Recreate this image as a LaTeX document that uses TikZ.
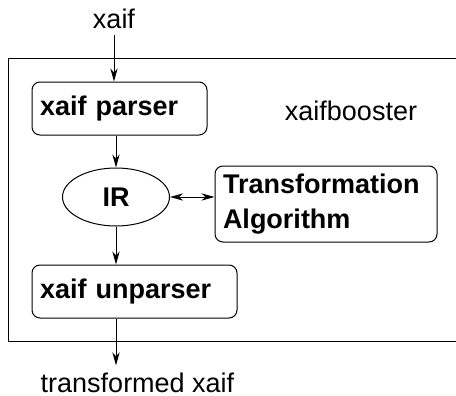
\documentclass[tikz,border=0pt]{standalone}
\usepackage{fontspec}
\setmainfont{Liberation Sans}
\usetikzlibrary{arrows.meta,shapes.geometric}

\tikzset{
  testo/.style={font=\fontsize{13.5}{17.5}\selectfont},
  blocco/.style={draw=black, line width=0.5pt, rounded corners=4pt, align=left,
    inner xsep=4pt, font=\fontsize{13.5}{17.5}\selectfont\bfseries},
  freccia/.style={line width=0.5pt, -{Stealth[length=6.5pt,width=3.6pt,inset=2pt]}},
  doppia/.style={line width=0.5pt, {Stealth[length=6.5pt,width=3.6pt,inset=2pt]}-{Stealth[length=6.5pt,width=3.6pt,inset=2pt]}},
}

\begin{document}
\begin{tikzpicture}[x=0.5pt, y=-0.5pt]

\useasboundingbox (0,0) rectangle (456,396);

% Riquadro esterno
\draw[line width=0.5pt] (8,58) rectangle (480,341);

% Testi fuori e dentro il riquadro
\node[testo, anchor=base] (xaifin) at (114,28) {xaif};
\node[testo, anchor=base] (booster) at (351,120) {xaifbooster};
\node[testo, anchor=base] (uscita) at (137.5,392) {transformed xaif};

% Blocchi
\node[blocco, text width=79.5pt, minimum height=26.5pt] (parser) at (119.5,108.5) {xaif parser};
\node[draw=black, line width=0.5pt, ellipse, inner sep=0pt, minimum width=53.5pt,
  minimum height=29pt, font=\fontsize{13.5}{17.5}\selectfont\bfseries] (ir) at (116,197) {IR};
\node[blocco, text width=103pt, minimum height=38pt] (trasf) at (326,204) {Transformation\\Algorithm};
\node[blocco, text width=94.5pt, minimum height=26.5pt] (unparser) at (134.5,291.5) {xaif unparser};

% Frecce
\draw[freccia] (xaifin) -- (xaifin |- parser.north);
\draw[freccia] (parser.south -| ir) -- (ir);
\draw[doppia] (ir.east) -- (ir.east -| trasf.west);
\draw[freccia] (ir) -- (ir |- unparser.north);
\draw[freccia] (unparser.south -| ir) -- (ir |- uscita.north);

\end{tikzpicture}
\end{document}
